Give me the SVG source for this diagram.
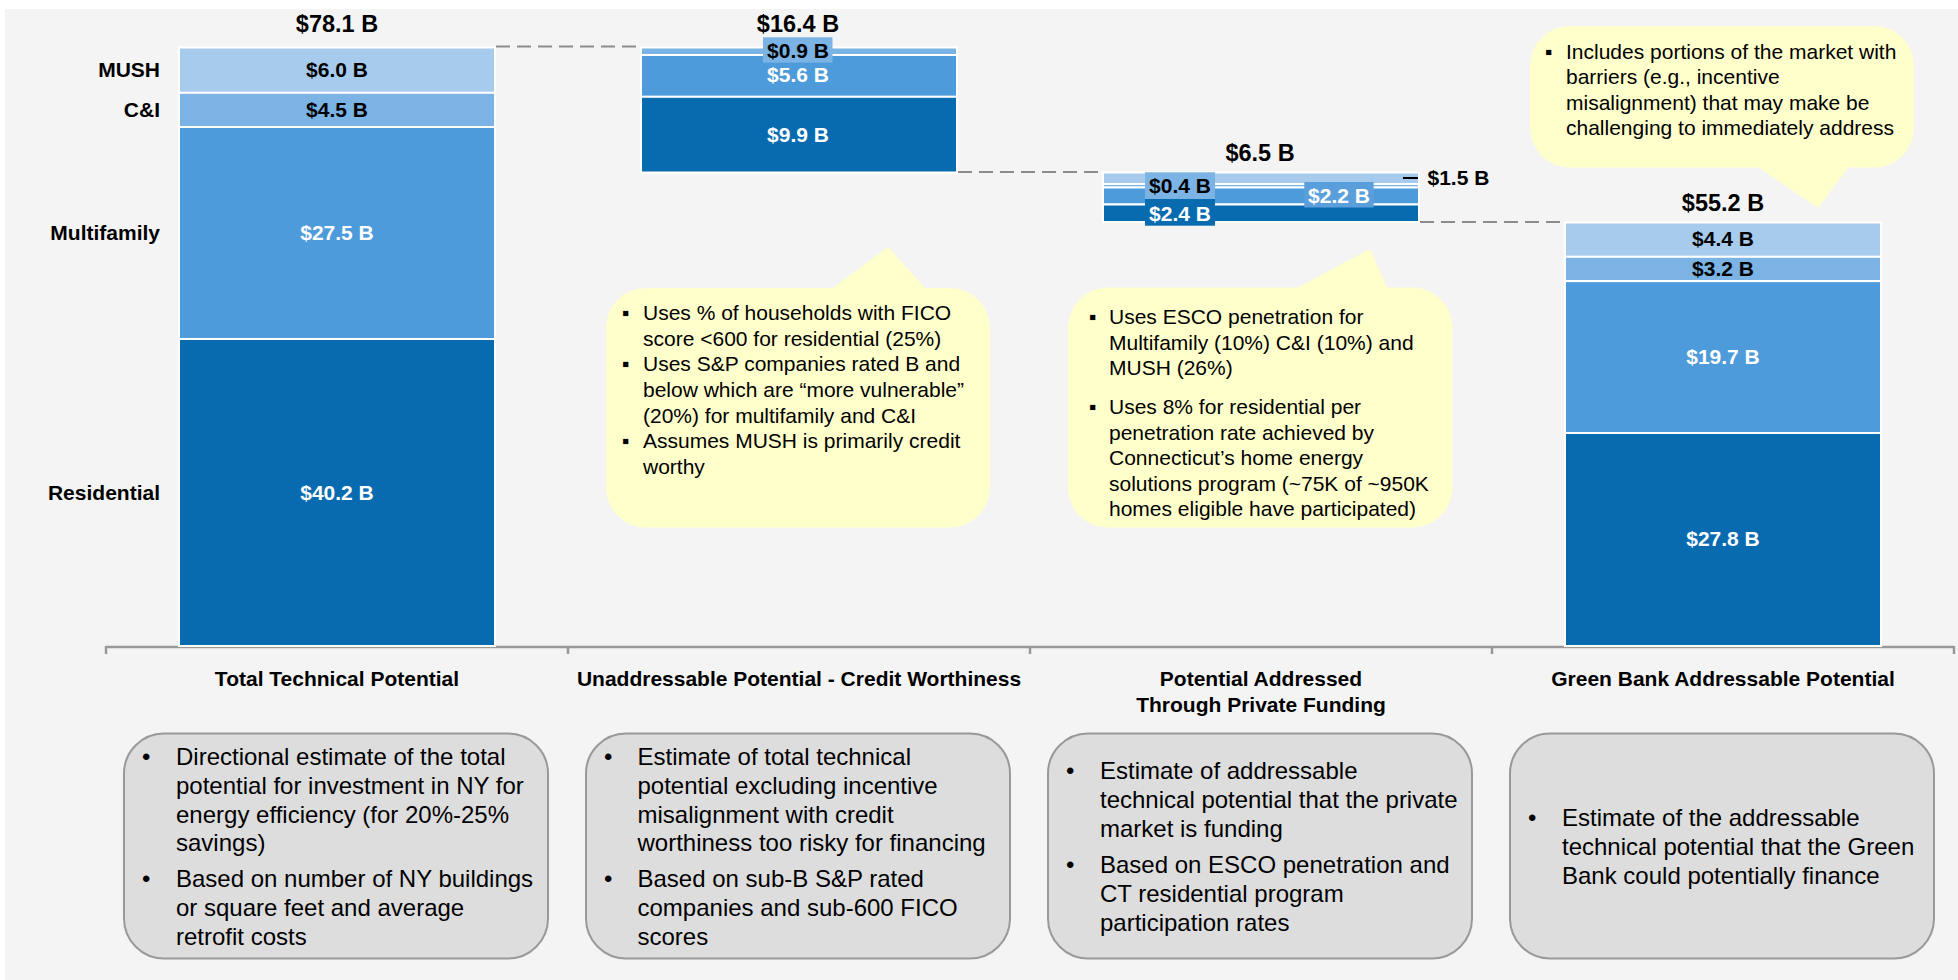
<svg xmlns="http://www.w3.org/2000/svg" width="1958" height="980" viewBox="0 0 1958 980">
<style>
text{font-family:"Liberation Sans",Arial,sans-serif;}
.seg{stroke:#ffffff;stroke-width:2;}
.mush{fill:#a7cbed;}
.ci{fill:#7ab3e4;}
.mf{fill:#4e9bdb;}
.res{fill:#086bb0;}
.tot{font-size:23.5px;font-weight:bold;fill:#000;text-anchor:middle;}
.lb{font-size:21px;font-weight:bold;text-anchor:middle;}
.dk{fill:#000;}
.wh{fill:#fff;}
.cat{font-size:21px;font-weight:bold;fill:#000;text-anchor:end;}
.ttl{font-size:21px;font-weight:bold;fill:#000;text-anchor:middle;}
.call{fill:#ffffcc;}
.ct{font-size:21px;fill:#000;}
.box{fill:#dddddd;stroke:#999999;stroke-width:2;}
.bt{font-size:24px;fill:#000;}
.dash{stroke:#8c8c8c;stroke-width:2;stroke-dasharray:14 7;fill:none;}
.axis{stroke:#999999;stroke-width:2.5;fill:none;}
</style>
<rect x="5" y="9" width="1953" height="971" fill="#f4f4f4"/>

<g id="axis">
<path class="axis" d="M106,647 H1954 M106,646 V654 M568,646 V654 M1030,646 V654 M1492,646 V654 M1954,646 V654"/>
</g>

<g id="category-labels">
<text class="cat" x="160" y="77">MUSH</text>
<text class="cat" x="160" y="117">C&amp;I</text>
<text class="cat" x="160" y="240">Multifamily</text>
<text class="cat" x="160" y="500">Residential</text>
</g>

<g id="bar-total">
<rect class="seg mush" x="179" y="47.5" width="316" height="45.3"/>
<rect class="seg ci" x="179" y="92.8" width="316" height="34.2"/>
<rect class="seg mf" x="179" y="127" width="316" height="212"/>
<rect class="seg res" x="179" y="339" width="316" height="307"/>
<text class="tot" x="337" y="32">$78.1 B</text>
<text class="lb dk" x="337" y="77">$6.0 B</text>
<text class="lb dk" x="337" y="117">$4.5 B</text>
<text class="lb wh" x="337" y="240">$27.5 B</text>
<text class="lb wh" x="337" y="500">$40.2 B</text>
</g>

<g id="bar-unaddressable">
<rect class="seg ci" x="641" y="47.5" width="316" height="7.5"/>
<rect class="seg mf" x="641" y="55" width="316" height="41.8"/>
<rect class="seg res" x="641" y="96.8" width="316" height="75.7"/>
<text class="tot" x="798" y="32">$16.4 B</text>
<rect x="763" y="37.3" width="69.5" height="25.4" fill="#7ab3e4"/>
<text class="lb dk" x="798" y="58">$0.9 B</text>
<text class="lb wh" x="798" y="82">$5.6 B</text>
<text class="lb wh" x="798" y="142">$9.9 B</text>
</g>

<g id="bar-private">
<rect class="seg mush" x="1103" y="172.5" width="316" height="11.5"/>
<rect class="seg ci" x="1103" y="184" width="316" height="3.5"/>
<rect class="seg mf" x="1103" y="187.5" width="316" height="17"/>
<rect class="seg res" x="1103" y="204.5" width="316" height="17.5"/>
<text class="tot" x="1260" y="161">$6.5 B</text>
<rect x="1145" y="172.3" width="70" height="26.7" fill="#7ab3e4"/>
<text class="lb dk" x="1180" y="193">$0.4 B</text>
<rect x="1145" y="199" width="70" height="26.7" fill="#086bb0"/>
<text class="lb wh" x="1180" y="220.5">$2.4 B</text>
<rect x="1304.3" y="182" width="69.3" height="25.5" fill="#5a9fdb"/>
<text class="lb wh" x="1339" y="202.5">$2.2 B</text>
<line x1="1403" y1="178" x2="1418" y2="178" stroke="#000" stroke-width="2"/>
<text class="lb dk" x="1427.5" y="185" style="text-anchor:start">$1.5 B</text>
</g>

<g id="bar-greenbank">
<rect class="seg mush" x="1565" y="222.5" width="316" height="34.3"/>
<rect class="seg ci" x="1565" y="256.8" width="316" height="24.3"/>
<rect class="seg mf" x="1565" y="281.1" width="316" height="151.9"/>
<rect class="seg res" x="1565" y="433" width="316" height="213"/>
<text class="tot" x="1723" y="210.5">$55.2 B</text>
<text class="lb dk" x="1723" y="246">$4.4 B</text>
<text class="lb dk" x="1723" y="276">$3.2 B</text>
<text class="lb wh" x="1723" y="364">$19.7 B</text>
<text class="lb wh" x="1723" y="546">$27.8 B</text>
</g>

<g id="connectors">
<line class="dash" x1="496" y1="46.5" x2="640" y2="46.5"/>
<line class="dash" x1="958" y1="172" x2="1102" y2="172"/>
<line class="dash" x1="1420" y1="222" x2="1564" y2="222"/>
</g>

<g id="axis-titles">
<text class="ttl" x="337" y="686">Total Technical Potential</text>
<text class="ttl" x="799" y="686">Unaddressable Potential - Credit Worthiness</text>
<text class="ttl" x="1261" y="686">Potential Addressed</text>
<text class="ttl" x="1261" y="712">Through Private Funding</text>
<text class="ttl" x="1723" y="686">Green Bank Addressable Potential</text>
</g>

<g id="callout-credit">
<rect class="call" x="606" y="288" width="384" height="239.5" rx="40"/>
<polygon class="call" points="830,290 888,247 927,290"/>
<text class="ct" x="622" y="320">▪</text>
<text class="ct" x="643" y="320">Uses % of households with FICO</text>
<text class="ct" x="643" y="346">score &lt;600 for residential (25%)</text>
<text class="ct" x="622" y="371">▪</text>
<text class="ct" x="643" y="371">Uses S&amp;P companies rated B and</text>
<text class="ct" x="643" y="397">below which are “more vulnerable”</text>
<text class="ct" x="643" y="423">(20%) for multifamily and C&amp;I</text>
<text class="ct" x="622" y="448">▪</text>
<text class="ct" x="643" y="448">Assumes MUSH is primarily credit</text>
<text class="ct" x="643" y="474">worthy</text>
</g>

<g id="callout-private">
<rect class="call" x="1068" y="287.5" width="384.5" height="240" rx="40"/>
<polygon class="call" points="1293,290 1370,249 1388,290"/>
<text class="ct" x="1089" y="324">▪</text>
<text class="ct" x="1109" y="324">Uses ESCO penetration for</text>
<text class="ct" x="1109" y="350">Multifamily (10%) C&amp;I (10%) and</text>
<text class="ct" x="1109" y="375">MUSH (26%)</text>
<text class="ct" x="1089" y="414">▪</text>
<text class="ct" x="1109" y="414">Uses 8% for residential per</text>
<text class="ct" x="1109" y="439.5">penetration rate achieved by</text>
<text class="ct" x="1109" y="465">Connecticut’s home energy</text>
<text class="ct" x="1109" y="490.5">solutions program (~75K of ~950K</text>
<text class="ct" x="1109" y="516">homes eligible have participated)</text>
</g>

<g id="callout-greenbank">
<rect class="call" x="1530" y="26" width="384" height="141.5" rx="40"/>
<polygon class="call" points="1755,165 1818,208 1850,165"/>
<text class="ct" x="1545" y="58.5">▪</text>
<text class="ct" x="1566" y="58.5">Includes portions of the market with</text>
<text class="ct" x="1566" y="83.5">barriers (e.g., incentive</text>
<text class="ct" x="1566" y="109.5">misalignment) that may make be</text>
<text class="ct" x="1566" y="134.5">challenging to immediately address</text>
</g>

<g id="box-total">
<rect class="box" x="124" y="733.5" width="424" height="225" rx="40"/>
<text class="bt" x="142" y="765">•</text>
<text class="bt" x="176" y="765">Directional estimate of the total</text>
<text class="bt" x="176" y="794">potential for investment in NY for</text>
<text class="bt" x="176" y="823">energy efficiency (for 20%-25%</text>
<text class="bt" x="176" y="851">savings)</text>
<text class="bt" x="142" y="887">•</text>
<text class="bt" x="176" y="887">Based on number of NY buildings</text>
<text class="bt" x="176" y="916">or square feet and average</text>
<text class="bt" x="176" y="945">retrofit costs</text>
</g>

<g id="box-unaddressable">
<rect class="box" x="586" y="733.5" width="424" height="225" rx="40"/>
<text class="bt" x="604" y="765">•</text>
<text class="bt" x="637.5" y="765">Estimate of total technical</text>
<text class="bt" x="637.5" y="794">potential excluding incentive</text>
<text class="bt" x="637.5" y="823">misalignment with credit</text>
<text class="bt" x="637.5" y="851">worthiness too risky for financing</text>
<text class="bt" x="604" y="887">•</text>
<text class="bt" x="637.5" y="887">Based on sub-B S&amp;P rated</text>
<text class="bt" x="637.5" y="916">companies and sub-600 FICO</text>
<text class="bt" x="637.5" y="945">scores</text>
</g>

<g id="box-private">
<rect class="box" x="1048" y="733.5" width="424" height="225" rx="40"/>
<text class="bt" x="1066" y="778.5">•</text>
<text class="bt" x="1100" y="778.5">Estimate of addressable</text>
<text class="bt" x="1100" y="808">technical potential that the private</text>
<text class="bt" x="1100" y="837">market is funding</text>
<text class="bt" x="1066" y="872.5">•</text>
<text class="bt" x="1100" y="872.5">Based on ESCO penetration and</text>
<text class="bt" x="1100" y="902">CT residential program</text>
<text class="bt" x="1100" y="931">participation rates</text>
</g>

<g id="box-greenbank">
<rect class="box" x="1510" y="733.5" width="424" height="225" rx="40"/>
<text class="bt" x="1528" y="826">•</text>
<text class="bt" x="1562" y="826">Estimate of the addressable</text>
<text class="bt" x="1562" y="854.5">technical potential that the Green</text>
<text class="bt" x="1562" y="883.5">Bank could potentially finance</text>
</g>
</svg>
